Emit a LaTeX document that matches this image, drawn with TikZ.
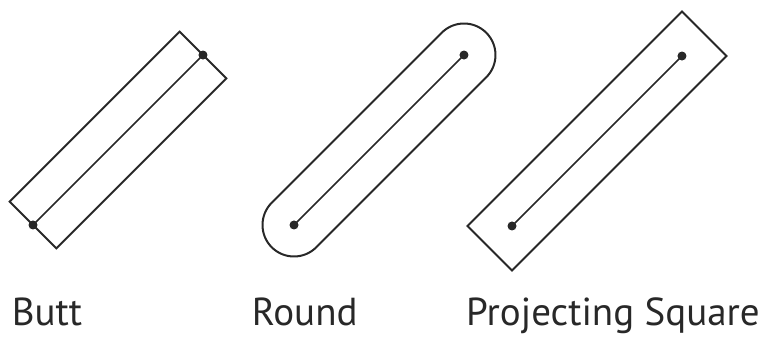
\documentclass[tikz,border=0pt]{standalone}
\usepackage{fontspec}
\setsansfont{PT Sans}
\usepackage{tikz}
\usetikzlibrary{calc}
\definecolor{capink}{RGB}{40,40,40}
\tikzset{
  outline/.style ={draw=capink,line width=0.6mm,line join=miter},
  centre/.style  ={draw=capink,line width=0.45mm},
  enddot/.style  ={fill=capink},
  caption/.style ={anchor=base west,inner sep=0pt,text=capink,
                   font=\sffamily\fontsize{33.3}{40}\selectfont},
}

\begin{document}
\begin{tikzpicture}[x=0.3mm,y=0.3mm]
  \useasboundingbox (0,0) rectangle (765,337);
  % butt cap
  \begin{scope}[shift={(33,112)},rotate=45]
    \coordinate (butta) at (0,0);
    \coordinate (buttb) at (240.4,0);
    \draw[outline] (0,-33) rectangle (240.4,33);
  \end{scope}
  \draw[centre] (butta) -- (buttb);
  \fill[enddot] (butta) circle (4.5) (buttb) circle (4.5);
  % round cap
  \begin{scope}[shift={(294,112)},rotate=45]
    \coordinate (rounda) at (0,0);
    \coordinate (roundb) at (240.4,0);
    \draw[outline] (0,-31.5) -- (240.4,-31.5) arc (-90:90:31.5)
      -- (0,31.5) arc (90:270:31.5) -- cycle;
  \end{scope}
  \draw[centre] (rounda) -- (roundb);
  \fill[enddot] (rounda) circle (4.5) (roundb) circle (4.5);
  % projecting square cap
  \begin{scope}[shift={(512,111)},rotate=45]
    \coordinate (squarea) at (0,0);
    \coordinate (squareb) at (240.4,0);
    \draw[outline] (-31.5,-31.5) rectangle (271.9,31.5);
  \end{scope}
  \draw[centre] (squarea) -- (squareb);
  \fill[enddot] (squarea) circle (4.5) (squareb) circle (4.5);
  % labels
  \node[caption] (buttlabel) at (11.7,11) {Butt};
  \node[caption] (roundlabel) at (251.7,11) {Round};
  \node[caption] (squarelabel) at (466,11) {Projecting Square};
\end{tikzpicture}
\end{document}
